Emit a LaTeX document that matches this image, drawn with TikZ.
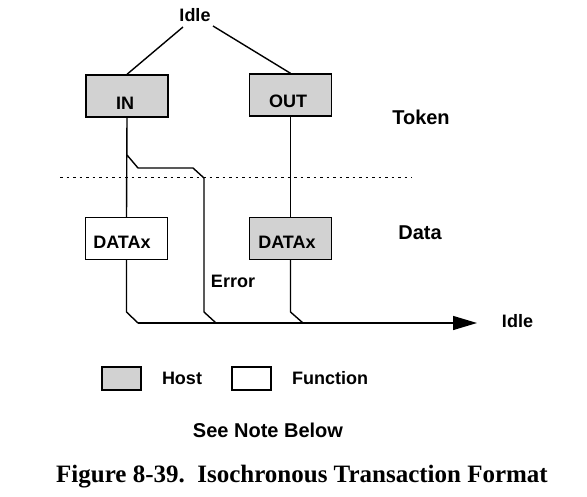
\documentclass[tikz,border=0pt]{standalone}
\usepackage{fontspec}
\setmainfont{Liberation Serif}
\setsansfont{Liberation Sans}
\usetikzlibrary{arrows.meta}

\begin{document}
\begin{tikzpicture}[x=1pt, y=-1pt, line width=1.4pt,
	lbl/.style={inner sep=0pt, font=\sffamily\bfseries\fontsize{18}{21}\selectfont},
	biglbl/.style={inner sep=0pt, font=\sffamily\bfseries\fontsize{20}{24}\selectfont},
	pidbox/.style={draw, minimum width=82pt, minimum height=42pt, inner sep=0pt},
	hostfill/.style={fill=gray!35},
	swatch/.style={draw, minimum width=39pt, minimum height=23pt, inner sep=0pt}]

	\useasboundingbox (0,0) rectangle (587,496);

	% token boxes
	\node [lbl] (idletop) at (195, 15) {Idle};
	\node [pidbox, hostfill] (inbox) at (127, 96) {};
	\node [lbl] (intext) at (125, 103) {IN};
	\node [pidbox, hostfill] (outbox) at (290.5, 95) {};
	\node [lbl] (outtext) at (288, 101) {OUT};
	\node [biglbl] (token) at (421, 117) {Token};

	\draw (183, 27) -- (inbox.north);
	\draw (213, 26) -- (outbox.north);

	\draw [line width=0.8pt, dash pattern=on 2.5pt off 4pt] (60, 177) -- (412, 177);

	% data boxes
	\node [pidbox] (indata) at (126.5, 238.5) {};
	\node [lbl] (indatatext) at (122, 242) {DATAx};
	\node [pidbox, hostfill] (outdata) at (290.5, 238.5) {};
	\node [lbl] (outdatatext) at (287, 242) {DATAx};
	\node [biglbl] (data) at (420, 233) {Data};
	\node [lbl] (error) at (233, 281) {Error};

	\draw (inbox.south) -- (indata.north);
	\draw (outbox.south) -- (outdata.north);

	% error path
	\coordinate (bend) at (127, 155);
	\draw (bend) -- (138, 168) -- (193, 168) -- (204, 178) -- (204, 312) -- (216, 323);

	% back to idle
	\coordinate (busL) at (138, 323);
	\coordinate (busR) at (477, 323);
	\node [lbl] (idleend) at (517.5, 321) {Idle};
	\draw (indata.south) -- (126.5, 312) -- (busL);
	\draw (outdata.south) -- (290.5, 312) -- (303, 323);
	\draw [-{Triangle[length=24pt, width=14pt]}] (busL) -- (busR);

	% legend
	\node [swatch, hostfill] (hostkey) at (121.5, 378.5) {};
	\node [lbl] (host) at (182, 378) {Host};
	\node [swatch] (funckey) at (251.5, 378.5) {};
	\node [lbl] (function) at (330, 378) {Function};

	\node [biglbl] (note) at (268, 430) {See Note Below};
	\node [inner sep=0pt, font=\bfseries\fontsize{25}{29}\selectfont] (caption) at (302, 477) {Figure 8-39.\ \ Isochronous Transaction Format};
\end{tikzpicture}
\end{document}
